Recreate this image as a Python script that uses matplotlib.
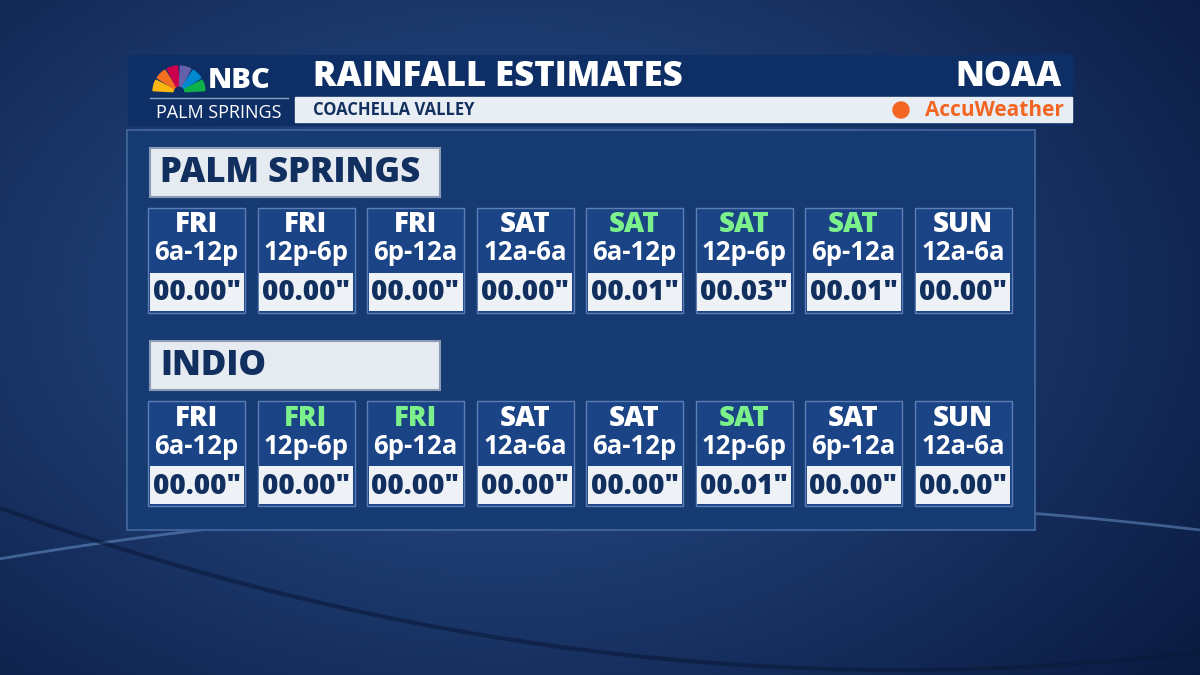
import matplotlib
matplotlib.use("Agg")
import matplotlib.pyplot as plt
import numpy as np
from matplotlib.patches import Rectangle, Wedge

days = ["FRI", "FRI", "FRI", "SAT", "SAT", "SAT", "SAT", "SUN"]
periods = ["6a-12p", "12p-6p", "6p-12a", "12a-6a", "6a-12p", "12p-6p", "6p-12a", "12a-6a"]
ps_values = [0.00, 0.00, 0.00, 0.00, 0.01, 0.03, 0.01, 0.00]
indio_values = [0.00, 0.00, 0.00, 0.00, 0.00, 0.01, 0.00, 0.00]
ps_highlight = [False, False, False, False, True, True, True, False]
indio_highlight = [False, True, True, False, False, True, False, False]
locations = ["PALM SPRINGS", "INDIO"]

FONT = "Open Sans"
fig = plt.figure(figsize=(12, 6.75), dpi=100)
ax = fig.add_axes([0, 0, 1, 1])
ax.set_xlim(0, 1200); ax.set_ylim(675, 0); ax.axis("off")

# background gradient
yy, xx = np.mgrid[0:675, 0:1200]
r = np.sqrt(((xx - 500) / 900) ** 2 + ((yy - 300) / 600) ** 2)
t = np.clip(r, 0, 1)
c0 = np.array([0.17, 0.33, 0.58]); c1 = np.array([0.04, 0.10, 0.25])
img = c0[None, None, :] * (1 - t[..., None]) + c1[None, None, :] * t[..., None]
ax.imshow(img, extent=[0, 1200, 675, 0], zorder=0)
xs = np.linspace(0, 1200, 300)
ax.plot(xs, 560 + 0.00012 * (xs - 700) ** 2 - 60, color="#6f9ad0", lw=2, alpha=0.5, zorder=1)
ax.plot(xs, 640 - 0.0002 * (xs - 900) ** 2 + 30, color="#0a1a3a", lw=3, alpha=0.6, zorder=1)

# header
ax.add_patch(Rectangle((128, 55), 944, 70, color="#0e2f66", zorder=2))
ax.add_patch(Rectangle((295, 97), 777, 25, color="#e9eef5", zorder=3))
ax.text(313, 77, "RAINFALL ESTIMATES", color="white", fontsize=25, fontweight="heavy",
        family=FONT, va="center", zorder=4)
ax.text(1062, 77, "NOAA", color="white", fontsize=25, fontweight="heavy", family=FONT,
        va="center", ha="right", zorder=4)
ax.text(313, 110, "COACHELLA VALLEY", color="#14305e", fontsize=12, fontweight="bold",
        family=FONT, va="center", zorder=4)
ax.add_patch(Wedge((901, 110), 8, 0, 360, color="#f26522", zorder=4))
ax.text(1064, 110, "AccuWeather", color="#f26522", fontsize=15, fontweight="bold",
        family=FONT, va="center", ha="right", zorder=4)
# NBC peacock (fan opening upward)
cols = ["#fcb711", "#f37021", "#cc004c", "#6460aa", "#0089d0", "#0db14b"]
for i, c in enumerate(cols):
    a0 = 180 + i * 30
    ax.add_patch(Wedge((179, 92), 26, a0 + 3, a0 + 27, width=20, color=c, zorder=4))
ax.text(208, 80, "NBC", color="white", fontsize=21, fontweight="heavy", family=FONT, va="center", zorder=5)
ax.plot([150, 288], [98, 98], color="#8aa0c0", lw=1, zorder=5)
ax.text(219, 113, "PALM SPRINGS", color="white", fontsize=13, family=FONT, va="center", ha="center", zorder=5)

# main panel
ax.add_patch(Rectangle((127, 130), 908, 400, facecolor="#163a72", edgecolor="#3c5f95", lw=1.5, zorder=2))

def section(y0, name, vals, hl):
    ax.add_patch(Rectangle((150, y0), 290, 49, facecolor="#e6ebf2", edgecolor="#8a9ab5", lw=1.5, zorder=3))
    ax.text(160, y0 + 25, name, color="#12305f", fontsize=25, fontweight="heavy", family=FONT,
            va="center", zorder=4)
    top = y0 + 60
    for i, (d, p, v, h) in enumerate(zip(days, periods, vals, hl)):
        x = 148 + i * 109.5
        ax.add_patch(Rectangle((x, top), 97, 105, facecolor="#1b4487", edgecolor="#5d7fb3", lw=1, zorder=3))
        ax.add_patch(Rectangle((x + 1.5, top + 65), 94, 38, facecolor="#eef1f6", zorder=4))
        ax.text(x + 48.5, top + 17, d, color="#7cf08a" if h else "white", fontsize=20,
                fontweight="heavy", family=FONT, va="center", ha="center", zorder=5)
        ax.text(x + 48.5, top + 45, p, color="white", fontsize=18.5, fontweight="bold",
                family=FONT, va="center", ha="center", zorder=5)
        ax.text(x + 48.5, top + 85, f"{v:05.2f}\u2033", color="#12305f", fontsize=20,
                fontweight="heavy", family=FONT, va="center", ha="center", zorder=5)

section(148, locations[0], ps_values, ps_highlight)
section(341, locations[1], indio_values, indio_highlight)

fig.savefig("out.png", dpi=100)
